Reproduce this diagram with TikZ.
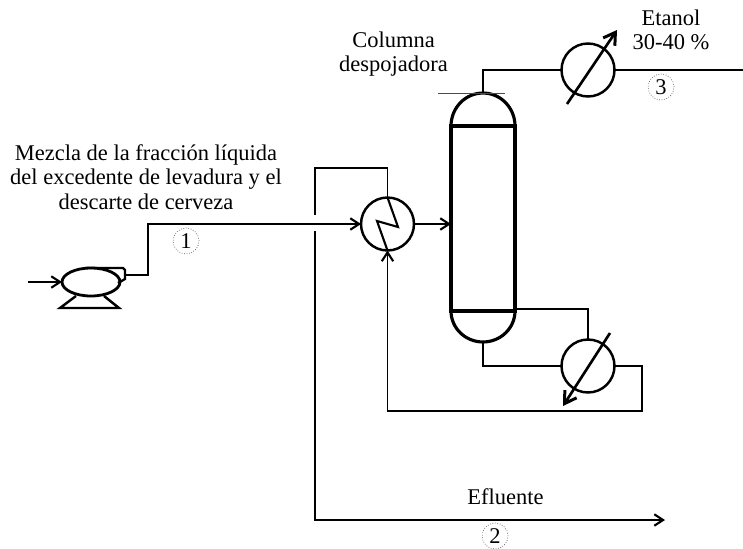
\documentclass[tikz,border=0pt]{standalone}
\usepackage{fontspec}
\setmainfont{Liberation Serif}
\usetikzlibrary{arrows.meta,shapes.geometric}
\tikzset{
  pipe/.style={line width=0.8pt},
  flow/.style={pipe,-{Straight Barb[length=5pt,width=6.5pt,line width=1.2pt]}},
  unit/.style={circle,draw,line width=1.4pt,minimum size=1.06cm,inner sep=0pt,outer sep=0pt},
  adjust/.style={line width=1.5pt,-{Straight Barb[length=6.5pt,width=8pt,line width=1.7pt]}},
  vessel/.style={line width=1.8pt},
  streamno/.style={circle,draw=black!65,densely dotted,line width=0.4pt,minimum size=0.52cm,inner sep=0pt,font=\fontsize{12.8}{14}\selectfont},
  label/.style={align=center,font=\fontsize{12.8}{13.8}\selectfont,inner sep=0pt}
}
\begin{document}
\begin{tikzpicture}[x=0.02cm,y=-0.02cm]

    % Fix the page
    \useasboundingbox (0,0) rectangle (743,548);

    % Define the equipment
    \node[unit] (hx) at (387.5,224) {};
    \node[unit] (cond) at (588,70) {};
    \node[unit] (reb) at (588,366) {};
    \node[draw,vessel,minimum width=1.28cm,minimum height=3.7cm,inner sep=0pt,outer sep=0pt] (col) at (483,218.5) {};

    % Define the free ends and bends of the lines
    \coordinate (coltop) at (483,93);
    \coordinate (colbot) at (483,342);
    \coordinate (feedin) at (28,282);
    \coordinate (pumpout) at (125,275);
    \coordinate (ethanol) at (743,70);
    \coordinate (effl) at (665,520);
    \coordinate (gapup) at (315,215);
    \coordinate (gapdown) at (315,231);

    % Draw the column heads
    \draw[vessel] (col.north west) arc[start angle=180,end angle=0,x radius=0.64cm,y radius=0.66cm];
    \draw[vessel] (col.south west) arc[start angle=180,end angle=360,x radius=0.64cm,y radius=0.62cm];
    \draw[thin,black!70] (438,93) -- (505,93);

    % Draw the pump
    \node[draw,ellipse,line width=1.6pt,minimum width=1.16cm,minimum height=0.56cm,inner sep=0pt,outer sep=0pt] (pump) at (91,282) {};
    \draw[line width=1.3pt] (85,268) -- (123,268) -- (125,270) -- (125,279) -- (118,283);
    \draw[line width=1.4pt] (76,296) -- (60,308) -- (119,308) -- (104,296);

    % Draw the zigzag inside the heat exchanger
    \draw[line width=1.2pt] (hx.north) -- (398,227) -- (377,221) -- (hx.south);

    % Draw the arrows through the two exchangers
    \draw[adjust] (567,104) -- (617,30);
    \draw[adjust] (610,333) -- (563,406);

    % Draw the lines
    \draw[flow] (feedin) -- (pump.west);
    \draw[pipe] (pumpout) -- (148,275) -- (148,224) -- (315,224);
    \draw[flow] (315,224) -- (hx.west);
    \draw[flow] (hx.east) -- (col.west |- hx.east);
    \draw[pipe] (hx.north) |- (315,168) -- (gapup);
    \draw[flow] (gapdown) |- (effl);
    \draw[pipe] (coltop) |- (cond.west);
    \draw[pipe] (cond.east) -- (ethanol);
    \draw[pipe] (col.east |- 0,309) -| (reb.north);
    \draw[pipe] (colbot) |- (reb.west);
    \draw[flow] (reb.east) -| (642,411) -| (hx.south);

    % Add the stream numbers
    \node[streamno] (s1) at (186,241) {1};
    \node[streamno] (s2) at (495,536) {2};
    \node[streamno] (s3) at (661,87) {3};

    % Add the labels
    \node[label] (feedlabel) at (146,177) {Mezcla de la fracción líquida\\del excedente de levadura y el\\descarte de cerveza};
    \node[label] (collabel) at (393.5,54) {Columna\\despojadora};
    \node[label] (ethlabel) at (671,30) {Etanol\\30-40 \%};
    \node[label] (efflabel) at (505.5,497) {Efluente};

\end{tikzpicture}
\end{document}
